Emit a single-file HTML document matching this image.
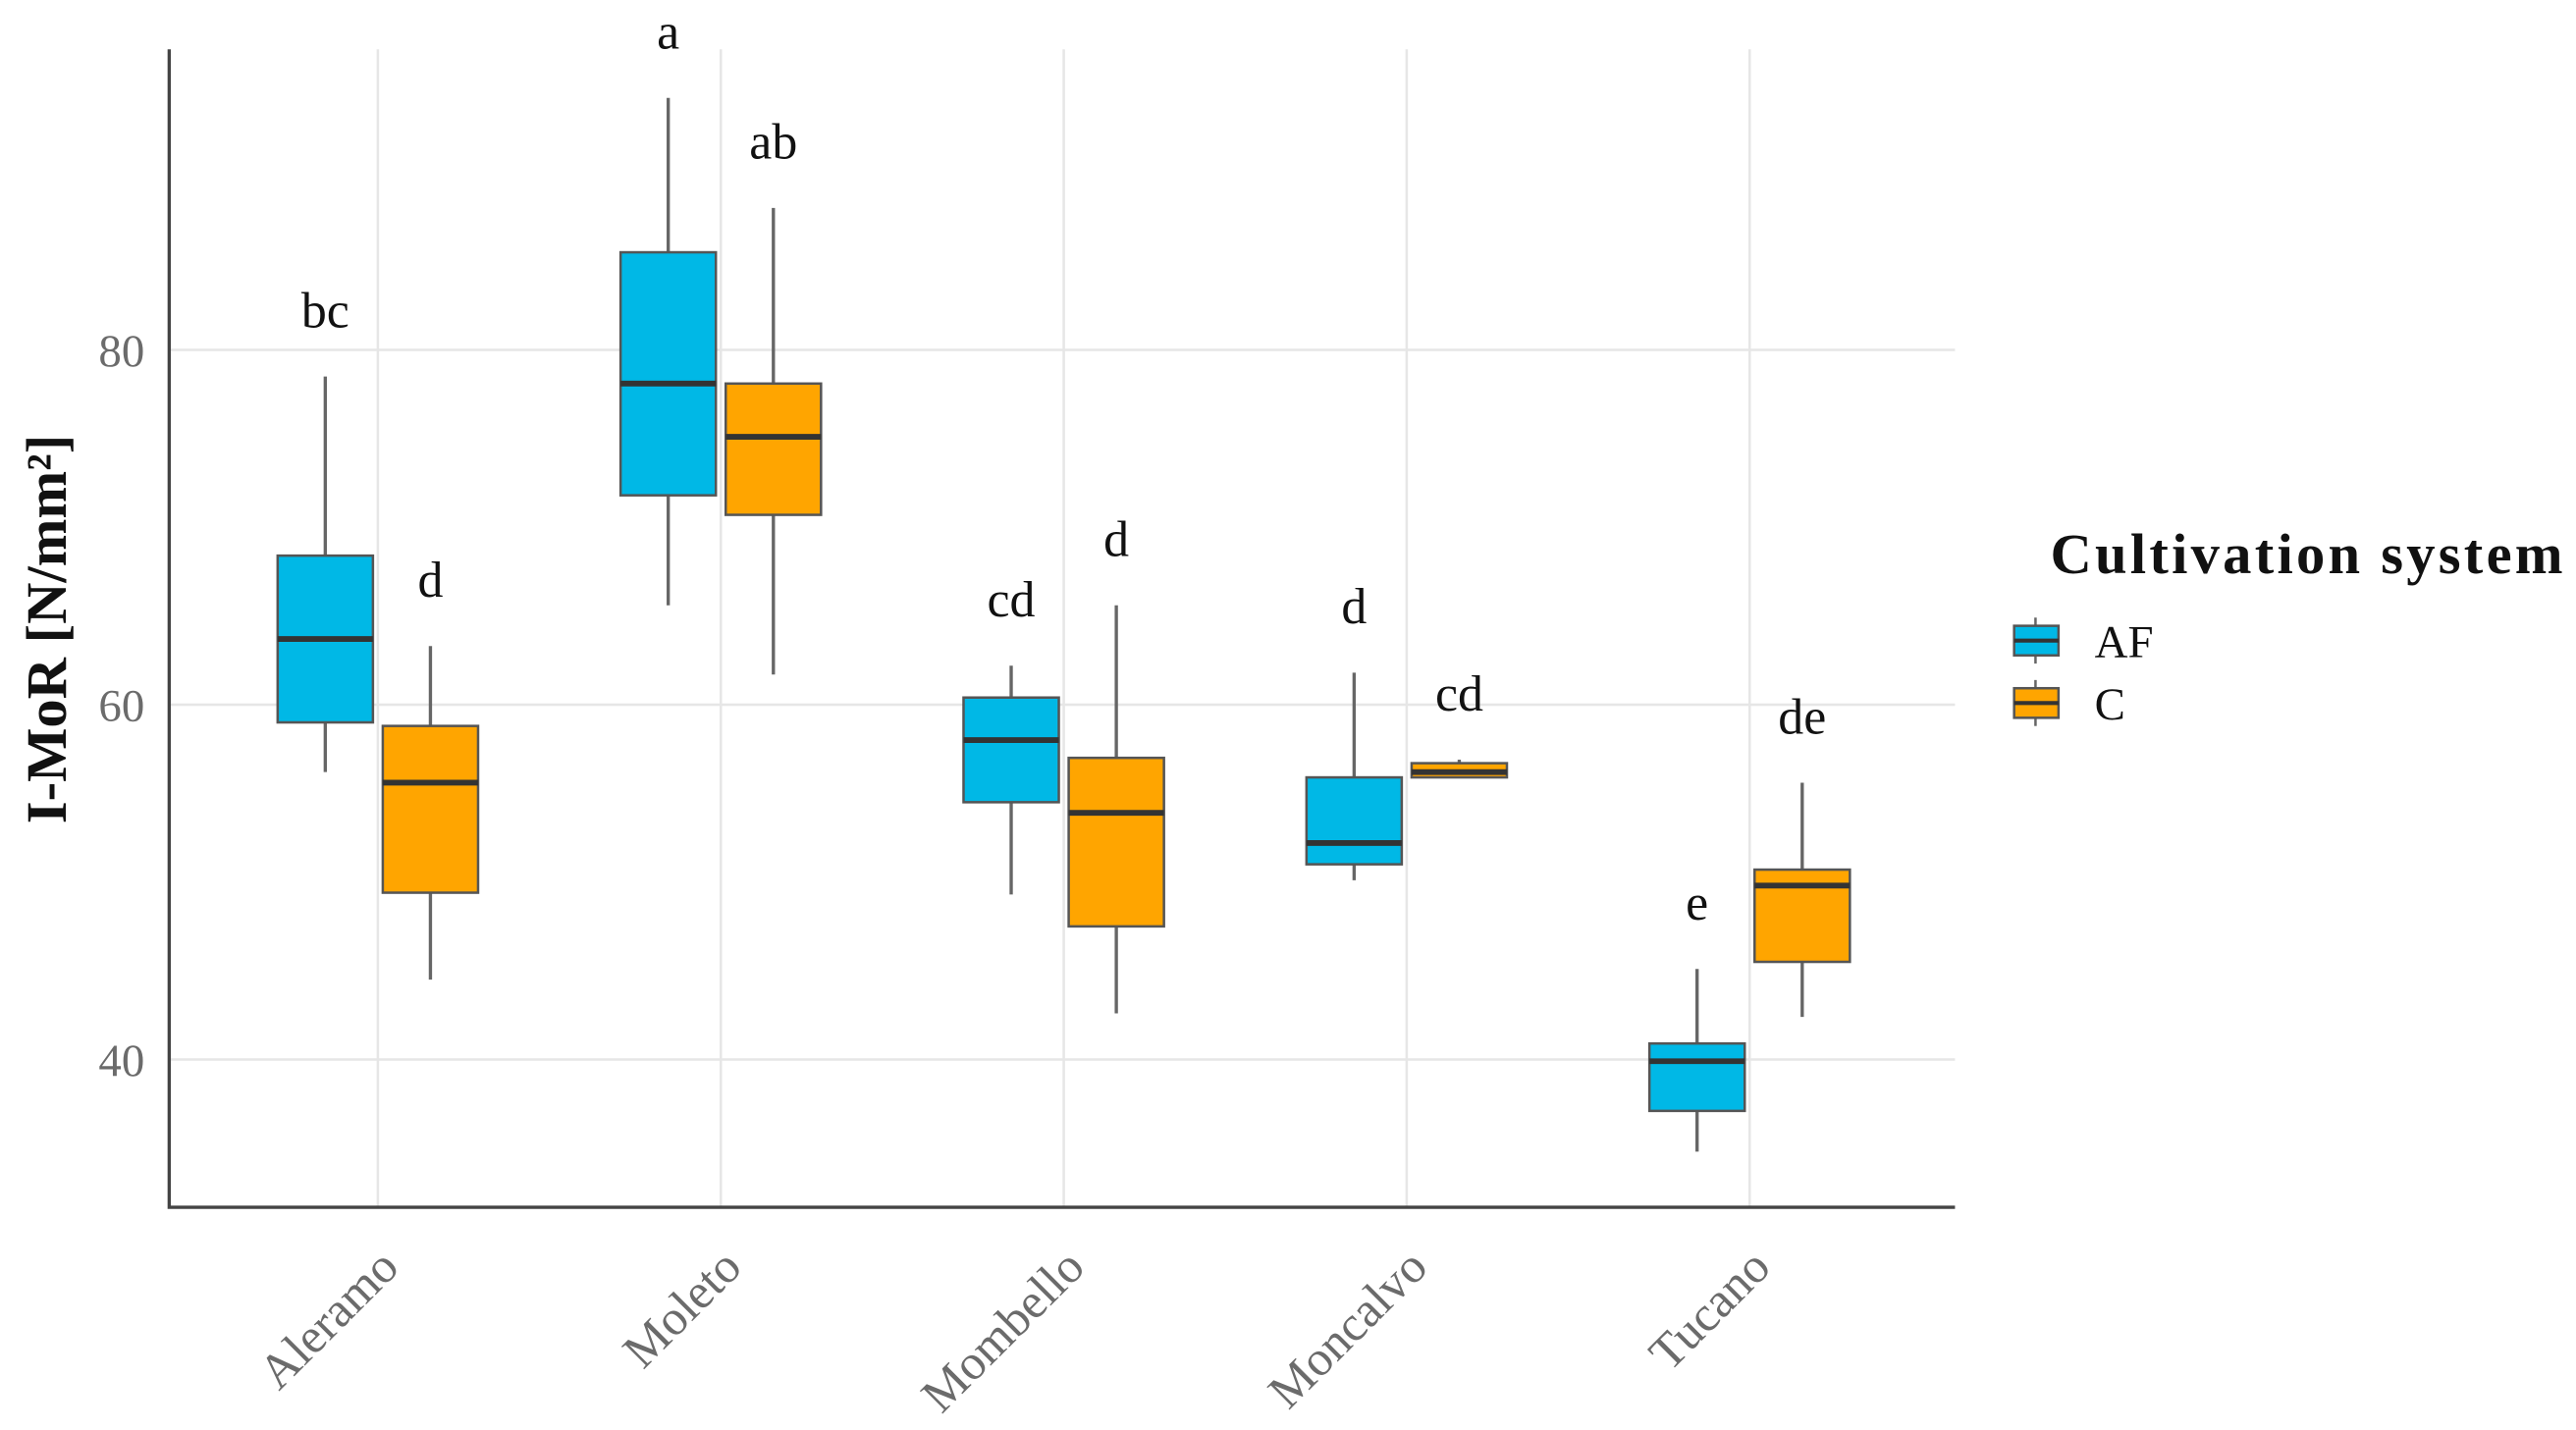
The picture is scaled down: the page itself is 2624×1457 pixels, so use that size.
<!DOCTYPE html>
<html><head><meta charset="utf-8"><style>html,body{margin:0;padding:0;background:#fff}svg{display:block}</style></head>
<body>
<svg id="chart" width="2624" height="1457" viewBox="0 0 1568 870.6" preserveAspectRatio="none" xmlns="http://www.w3.org/2000/svg" font-family="'Liberation Serif', serif"></svg>
<script>
const categories = ["Aleramo","Moleto","Mombello","Moncalvo","Tucano"];
const afLow = [56.2,65.6,49.3,50.1,34.8];
const afQ1 = [59.0,71.8,54.5,51.0,37.1];
const afMed = [63.7,78.1,58.0,52.2,39.9];
const afQ3 = [68.4,85.5,60.4,55.9,40.9];
const afHigh = [78.5,94.2,62.2,61.8,45.1];
const cLow = [44.5,61.7,42.6,55.9,42.4];
const cQ1 = [49.4,70.7,47.5,55.9,45.5];
const cMed = [55.6,75.1,53.9,56.2,49.8];
const cQ3 = [58.8,78.1,57.0,56.7,50.7];
const cHigh = [63.3,88.0,65.6,56.9,55.6];
const afLetters = ["bc","a","cd","d","e"];
const cLetters = ["d","ab","d","cd","de"];
const yTicks = [40,60,80];

const NS="http://www.w3.org/2000/svg";
const svg=document.getElementById('chart');
const L=103,R=1190,T=30,B=735;
const y=v=>213-(v-80)*10.8;
const x=i=>230+i*208.75;
function mk(tag,attrs,parent){const e=document.createElementNS(NS,tag);for(const k in attrs)e.setAttribute(k,attrs[k]);(parent||svg).appendChild(e);return e;}

yTicks.forEach(t=>{
  const g=mk('line',{x1:L,x2:R,y1:y(t),y2:y(t),stroke:'#e6e6e6','stroke-width':1.5});
  
  
  const tx=mk('text',{x:88,y:y(t)+10,'text-anchor':'end','font-size':28,fill:'#6b6b6b'});
  tx.textContent=t;
  
  
});
categories.forEach((c,i)=>{
  const g=mk('line',{x1:x(i),x2:x(i),y1:T,y2:B,stroke:'#e6e6e6','stroke-width':1.5});
  
  
  const tx=mk('text',{x:x(i)+14,y:B+38,'text-anchor':'end','font-size':30,fill:'#6b6b6b',transform:`rotate(-45 ${x(i)+14} ${B+38})`});
  tx.textContent=c;
  
  
});
const ax=mk('polyline',{points:`${L},${T} ${L},${B} ${R},${B}`,fill:'none',stroke:'#444','stroke-width':2});



function box(cx,lo,q1,md,q3,hi,col,lab,name){
  const w=58;
  const wl=mk('line',{x1:cx,x2:cx,y1:y(hi),y2:y(lo),stroke:'#666','stroke-width':2});
  
  
  const r=mk('rect',{x:cx-w/2,y:y(q3),width:w,height:y(q1)-y(q3),fill:col,stroke:'#555','stroke-width':1.5});
  
  
  const m=mk('line',{x1:cx-w/2,x2:cx+w/2,y1:y(md),y2:y(md),stroke:'#333','stroke-width':3.5});
  
  
  const t=mk('text',{x:cx,y:y(hi)-30,'text-anchor':'middle','font-size':31,fill:'#111'});
  t.textContent=lab;
  
  
}
categories.forEach((c,i)=>{
  box(x(i)-32,afLow[i],afQ1[i],afMed[i],afQ3[i],afHigh[i],'#00b8e6',afLetters[i],'af-'+c.toLowerCase());
  box(x(i)+32,cLow[i],cQ1[i],cMed[i],cQ3[i],cHigh[i],'#ffa500',cLetters[i],'c-'+c.toLowerCase());
});

const yt=mk('text',{x:0,y:0,'text-anchor':'middle','font-size':35,'font-weight':'bold',fill:'#111',transform:'translate(40 383) rotate(-90)'});
yt.textContent='I-MoR [N/mm²]';



const lt=mk('text',{x:1248,y:349,'font-size':35,'font-weight':'bold',fill:'#111',textLength:312});
lt.textContent='Cultivation system';


[['AF','#00b8e6',390],['C','#ffa500',428]].forEach(([lab,col,cy])=>{
  const g=mk('g',{});
  
  
  mk('line',{x1:1239,x2:1239,y1:cy-14,y2:cy+14,stroke:'#666','stroke-width':1.5},g);
  mk('rect',{x:1226,y:cy-9,width:27,height:18,fill:col,stroke:'#555','stroke-width':1.5},g);
  mk('line',{x1:1226,x2:1253,y1:cy,y2:cy,stroke:'#333','stroke-width':2.5},g);
  const t=mk('text',{x:1275,y:cy+10,'font-size':28,fill:'#111'},g);
  t.textContent=lab;
});
</script>
</body></html>
